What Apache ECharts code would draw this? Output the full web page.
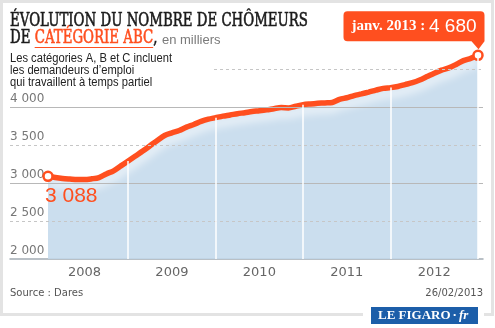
<!DOCTYPE html>
<html>
<head>
<meta charset="utf-8">
<script src="https://cdn.jsdelivr.net/npm/echarts@6/dist/echarts.min.js"></script>
<style>
  html, body { margin: 0; padding: 0; background: #fff; }
  #chart { width: 495px; height: 328px; }
</style>
</head>
<body>
<div id="chart"></div>
<script>
// Demandeurs d'emploi inscrits en catégories A, B et C (en milliers), mensuel
const startYear = 2008;
const startMonth = 2; // février 2008
const jobseekers = [
  3088, 3072, 3060, 3052, 3045, 3045, 3055, 3072, 3120, 3160, 3225,
  3290, 3355, 3420, 3490, 3560, 3625, 3660, 3690, 3735, 3770, 3810, 3840,
  3860, 3880, 3895, 3912, 3925, 3940, 3950, 3962, 3978, 3992, 3988, 4010,
  4030, 4040, 4048, 4054, 4060, 4100, 4122, 4150, 4172, 4196, 4222, 4245,
  4255, 4270, 4295, 4320, 4355, 4400, 4445, 4485, 4515, 4560, 4610, 4640,
  4680
];
const monthNamesFr = ['janv.', 'févr.', 'mars', 'avr.', 'mai', 'juin', 'juil.', 'août', 'sept.', 'oct.', 'nov.', 'déc.'];
const yTickLabels = [2000, 2500, 3000, 3500, 4000];
const solidGrid = [3000, 4000];
const dashedGrid = [2500, 3500, 4500];

// month categories "YYYY-MM"
const months = [];
for (let i = 0; i < jobseekers.length; i++) {
  const k = startMonth - 1 + i;
  months.push((startYear + Math.floor(k / 12)) + '-' + String(k % 12 + 1).padStart(2, '0'));
}
const last = jobseekers.length - 1;
const januaries = months.map((m, i) => (m.endsWith('-01') ? i : -1)).filter(i => i >= 0);

const ORANGE = '#ff4f1f';
const INK = '#1b1b1b';
const fmt = v => String(v).replace(/\B(?=(\d{3})+(?!\d))/g, ' ');
const monthLabel = m => monthNamesFr[+m.slice(5) - 1] + ' ' + m.slice(0, 4);

// width fitting for condensed headline type
const measureCtx = document.createElement('canvas').getContext('2d');
const textWidth = (t, font) => { measureCtx.font = font; return measureCtx.measureText(t).width; };

const HEAD_FONT = '18px "DejaVu Serif", "Liberation Serif", serif';
const headScale = 298 / textWidth('ÉVOLUTION DU NOMBRE DE CHÔMEURS', HEAD_FONT);
const deW = textWidth('DE ', HEAD_FONT) * headScale;
const catW = textWidth('CATÉGORIE ABC', HEAD_FONT) * headScale;
const line2W = textWidth('DE CATÉGORIE ABC,', HEAD_FONT) * headScale;

const NOTE_FONT = '12px "Liberation Sans"';
const noteScale = 162 / textWidth('Les catégories A, B et C incluent', NOTE_FONT);

const chart = echarts.init(document.getElementById('chart'), null, { renderer: 'canvas' });

chart.setOption({
  animation: false,
  grid: [
    { left: 10, right: 12, top: 31, bottom: 69 },
    { left: 48, right: 17, top: 31, bottom: 69 }
  ],
  xAxis: [
    {
      gridIndex: 0, type: 'value', min: 0, max: 1,
      axisLine: { show: true, lineStyle: { color: '#a3acb4', width: 1.5 } },
      axisTick: { show: false }, axisLabel: { show: false }, splitLine: { show: false }
    },
    {
      gridIndex: 1, type: 'category', data: months, boundaryGap: false,
      axisLine: { show: false }, axisTick: { show: false }, splitLine: { show: false },
      axisLabel: {
        interval: (i, v) => v.endsWith('-07'),
        formatter: v => v.slice(0, 4),
        color: '#666', fontFamily: 'DejaVu Sans', fontSize: 13, margin: 7
      }
    }
  ],
  yAxis: [
    {
      gridIndex: 0, type: 'value', min: 2000, max: 5000, interval: 500,
      axisLine: { show: false }, axisTick: { show: false }, splitLine: { show: false },
      axisLabel: {
        inside: true, margin: 0, align: 'left', verticalAlign: 'bottom',
        padding: [0, 0, 2, 0],
        color: '#777', fontFamily: 'DejaVu Sans', fontSize: 12,
        formatter: v => (yTickLabels.includes(v) ? fmt(v) : '')
      }
    },
    { gridIndex: 1, type: 'value', min: 2000, max: 5000, show: false }
  ],
  series: [
    {
      // horizontal guides
      type: 'line', xAxisIndex: 0, yAxisIndex: 0, data: [], silent: true, z: 1,
      markLine: {
        silent: true, symbol: 'none', label: { show: false },
        data: [
          ...solidGrid.map(v => ({ yAxis: v, lineStyle: { color: '#b8b8b8', type: 'solid', width: 1 } })),
          ...dashedGrid.map(v => ({ yAxis: v, lineStyle: { color: '#c6c6c6', type: [3, 3], width: 1 } }))
        ]
      }
    },
    {
      // filled area with yearly separators
      type: 'line', xAxisIndex: 1, yAxisIndex: 1, data: jobseekers, smooth: 0.3,
      symbol: 'none', silent: true, z: 2,
      lineStyle: { width: 0 },
      areaStyle: { color: '#c2d8eb', opacity: 0.85 },
      markLine: {
        silent: true, symbol: 'none', label: { show: false },
        lineStyle: { color: '#ffffff', width: 1.5, type: 'solid' },
        data: januaries.map(i => [
          { coord: [months[i], 2000] },
          { coord: [months[i], jobseekers[i]] }
        ])
      }
    },
    {
      // main curve
      type: 'line', xAxisIndex: 1, yAxisIndex: 1, smooth: 0.3, z: 3, silent: true,
      symbol: 'none', showAllSymbol: true,
      lineStyle: {
        color: ORANGE, width: 5.5,
        shadowColor: 'rgba(255,255,255,0.95)', shadowBlur: 10, shadowOffsetY: 6
      },
      data: jobseekers.map((v, i) => {
        if (i !== 0 && i !== last) return v;
        const item = {
          value: v, symbol: 'circle', symbolSize: 9,
          itemStyle: { color: '#fff', borderColor: ORANGE, borderWidth: 2.5 }
        };
        if (i === 0) {
          item.label = {
            show: true, position: 'bottom', distance: 4, align: 'left', offset: [-3, 0],
            color: ORANGE, fontFamily: '"Liberation Sans", sans-serif',
            fontSize: 21, formatter: p => fmt(p.value)
          };
        }
        return item;
      }),
      markPoint: {
        silent: true,
        data: [{ coord: [months[last], jobseekers[last]], value: jobseekers[last], name: months[last] }],
        symbol: 'path://M4,0 L137,0 Q141,0 141,4 L141,30 L135,38 L128,30 L4,30 Q0,30 0,26 L0,4 Q0,0 4,0 Z',
        symbolSize: [141, 38], symbolKeepAspect: false, symbolOffset: [-64, -25],
        itemStyle: { color: ORANGE },
        label: {
          show: true, position: 'inside', offset: [0, -4],
          formatter: p => '{a|' + monthLabel(p.name) + ' : }{b|' + fmt(p.value) + '}',
          rich: {
            a: { color: '#fff', fontFamily: '"Liberation Serif", serif', fontWeight: 'bold', fontSize: 15 },
            b: { color: '#fff', fontFamily: '"Liberation Sans", sans-serif', fontSize: 19 }
          }
        }
      }
    }
  ],
  graphic: [
    {
      type: 'rect', z: -10, silent: true,
      shape: { x: 1.5, y: 1.5, width: 491, height: 313 },
      style: { fill: '#fff', stroke: '#e3e3e3', lineWidth: 3 }
    },
    // headline
    {
      type: 'text', z: 60, x: 10, y: 21, scaleX: headScale, silent: true,
      style: {
        text: 'ÉVOLUTION DU NOMBRE DE CHÔMEURS', font: HEAD_FONT, fill: INK,
        stroke: INK, lineWidth: 0.6, verticalAlign: 'middle'
      }
    },
    {
      type: 'text', z: 60, x: 10, y: 38, scaleX: headScale, silent: true,
      style: {
        text: '{k|DE }{o|CATÉGORIE ABC}{k|,}', verticalAlign: 'middle',
        rich: {
          k: { font: HEAD_FONT, fill: INK, stroke: INK, lineWidth: 0.6 },
          o: { font: HEAD_FONT, fill: ORANGE, stroke: ORANGE, lineWidth: 0.6 }
        }
      }
    },
    {
      type: 'line', z: 60, silent: true,
      shape: { x1: 10 + deW, y1: 47.5, x2: 10 + deW + catW, y2: 47.5 },
      style: { stroke: ORANGE, lineWidth: 1 }
    },
    {
      type: 'text', z: 60, x: 10 + line2W + 5, y: 40, silent: true,
      style: { text: 'en milliers', font: '13px "Liberation Sans"', fill: '#7a7a7a', verticalAlign: 'middle' }
    },
    // note
    {
      type: 'rect', z: 50, silent: true,
      shape: { x: 8, y: 50, width: 205, height: 40 },
      style: { fill: '#fff' }
    },
    {
      type: 'text', z: 60, x: 10, y: 53, scaleX: noteScale, silent: true,
      style: {
        text: 'Les catégories A, B et C incluent\nles demandeurs d’emploi\nqui travaillent à temps partiel',
        font: NOTE_FONT, fill: '#222', lineHeight: 12, verticalAlign: 'top'
      }
    },
    // footer
    {
      type: 'text', z: 60, x: 10, y: 293, silent: true,
      style: { text: 'Source : Dares', font: '10px "DejaVu Sans"', fill: '#555', verticalAlign: 'middle' }
    },
    {
      type: 'text', z: 60, x: 483, y: 293, silent: true,
      style: { text: '26/02/2013', font: '10px "DejaVu Sans"', fill: '#555', align: 'right', verticalAlign: 'middle' }
    },
    {
      type: 'rect', z: 55, silent: true,
      shape: { x: 363, y: 311, width: 121, height: 7 },
      style: { fill: '#fff' }
    },
    {
      type: 'rect', z: 60, silent: true,
      shape: { x: 371, y: 307, width: 107, height: 17 },
      style: { fill: '#1c5ea9' }
    },
    {
      type: 'text', z: 61, x: 378, y: 316, silent: true,
      style: {
        text: '{a|LE FIGARO}{b|·}{c|fr}', verticalAlign: 'middle',
        rich: {
          a: { font: 'bold 13px "Liberation Serif"', fill: '#fff' },
          b: { font: 'bold 13px "Liberation Serif"', fill: '#fff', padding: [0, 2, 0, 2] },
          c: { font: 'italic bold 13px "Liberation Serif"', fill: '#fff' }
        }
      }
    }
  ]
});
</script>
</body>
</html>
